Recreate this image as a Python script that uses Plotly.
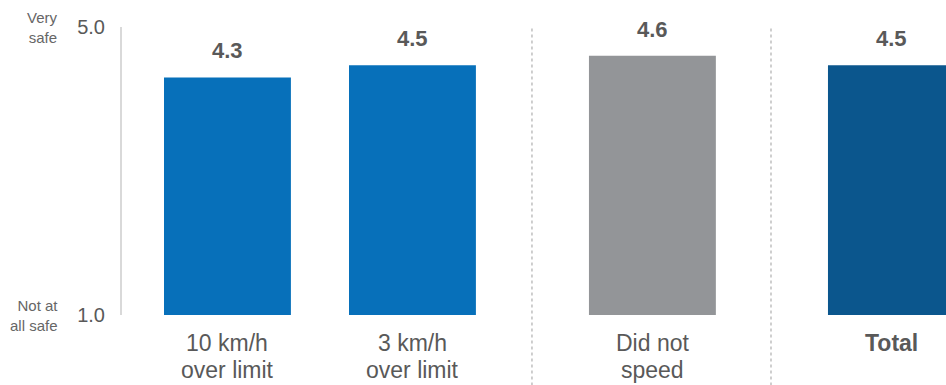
import plotly.graph_objects as go

categories = ["10 km/h<br>over limit", "3 km/h<br>over limit", "Did not<br>speed", "<b>Total</b>"]
positions = [0.0, 1.0, 2.297, 3.589]
values = [4.3, 4.47, 4.6, 4.47]
labels = ["4.3", "4.5", "4.6", "4.5"]
colors = ["#0770BA", "#0770BA", "#939598", "#0B568D"]
separators = [1.646, 2.938]
y_ticks = [1.0, 5.0]
y_ticktext = ["1.0", "5.0"]
scale_labels = {1.0: "Not at<br>all safe", 5.0: "Very<br>safe"}

FONT = "Liberation Sans, Arial, sans-serif"
GREY = "#595959"

fig = go.Figure()
fig.add_trace(go.Bar(
    x=positions, y=[v - 1 for v in values], base=1,
    width=0.686, marker=dict(color=colors, line=dict(width=0)),
    hoverinfo="skip",
))

for p, v, t in zip(positions, values, labels):
    fig.add_annotation(x=p, y=v, text=f"<b>{t}</b>", showarrow=False,
                       yanchor="bottom", yshift=12,
                       font=dict(family=FONT, size=22, color=GREY))

line_y = [-0.0972, -0.191]
for p, cat in zip(positions, categories):
    for i, part in enumerate(cat.split("<br>")):
        fig.add_annotation(x=p, xref="x", yref="paper", y=line_y[i], text=part,
                           showarrow=False, yanchor="middle", xanchor="center",
                           font=dict(family=FONT, size=23, color=GREY))

for yv, txt in scale_labels.items():
    fig.add_annotation(xref="paper", x=-0.0754, y=yv, text=txt, showarrow=False,
                       xanchor="right", yanchor="middle", align="right",
                       font=dict(family=FONT, size=15, color="#666666"))

for s in separators:
    fig.add_shape(type="line", xref="x", yref="paper", x0=s, x1=s, y0=-0.245, y1=1.0,
                  line=dict(color="#BFBFBF", width=1.5, dash="dot"))

fig.update_layout(
    width=946, height=385,
    margin=dict(l=122, r=0, t=27, b=70),
    plot_bgcolor="white", paper_bgcolor="white",
    showlegend=False,
    font=dict(family=FONT, color=GREY),
    xaxis=dict(range=[-0.570, 3.884], showticklabels=False,
               showgrid=False, zeroline=False, showline=False, ticks=""),
    yaxis=dict(range=[1, 5], tickvals=y_ticks, ticktext=y_ticktext,
               showgrid=False, zeroline=False, showline=True,
               linecolor="#D9D9D9", linewidth=2,
               ticks="outside", ticklen=11, tickcolor="rgba(0,0,0,0)",
               tickfont=dict(size=20, color=GREY, family=FONT)),
)

fig.write_html("out.html")
